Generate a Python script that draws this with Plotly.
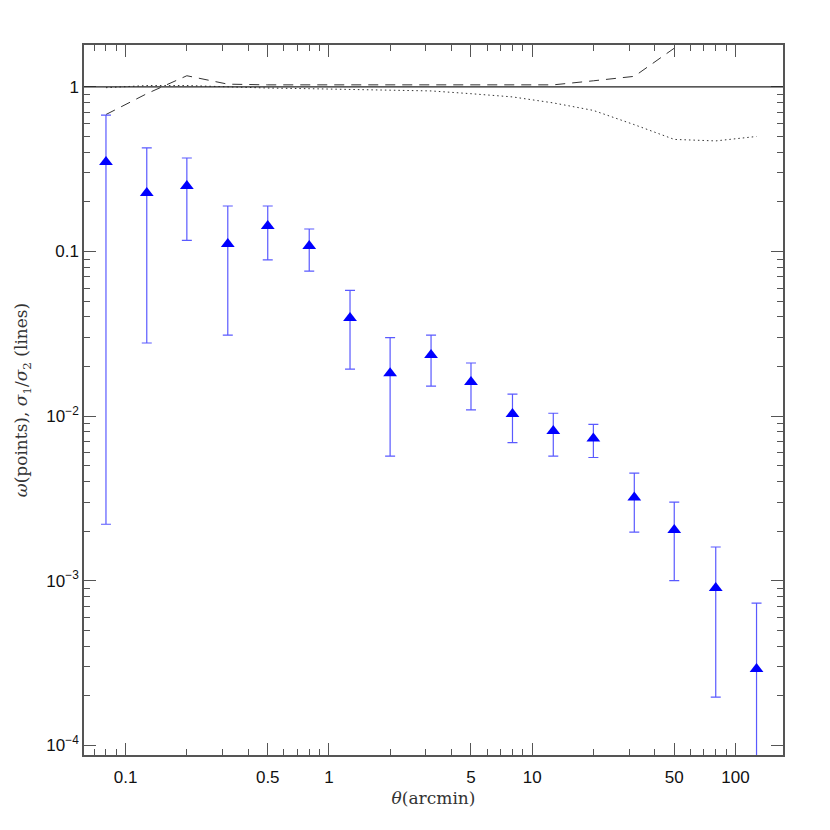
import plotly.graph_objects as go

# angular bins (arcmin)
theta = [0.08, 0.127, 0.2, 0.318, 0.5, 0.8, 1.27, 2.0, 3.18, 5.0,
         8.0, 12.7, 20.0, 31.8, 50.0, 80.0, 127.0]

# correlation function with upper / lower error bounds
omega = [0.35, 0.227, 0.25, 0.111, 0.143, 0.108, 0.0394, 0.0182, 0.0235,
         0.0161, 0.0103, 0.0081, 0.0073, 0.0032, 0.00203, 0.0009, 0.00029]
omega_hi = [0.675, 0.426, 0.37, 0.189, 0.189, 0.137, 0.058, 0.030, 0.031,
            0.021, 0.0136, 0.0104, 0.0089, 0.0045, 0.0030, 0.0016, 0.00073]
omega_lo = [0.0022, 0.0278, 0.117, 0.031, 0.089, 0.076, 0.0193, 0.0057,
            0.0152, 0.0109, 0.0069, 0.0057, 0.0056, 0.00197, 0.0010,
            0.000196, 0.00002]

# sigma ratio curves
theta_dash = [0.08, 0.127, 0.2, 0.318, 0.5, 0.8, 1.27, 2.0, 3.18, 5.0,
              8.0, 12.7, 20.0, 31.8, 50.0]
ratio_dash = [0.68, 0.91, 1.17, 1.04, 1.03, 1.03, 1.02, 1.02, 1.02, 1.02,
              1.02, 1.03, 1.09, 1.16, 1.72]
ratio_dot = [0.99, 1.02, 1.02, 1.0, 0.985, 0.976, 0.963, 0.955, 0.946, 0.91,
             0.87, 0.80, 0.72, 0.59, 0.48, 0.47, 0.50]

x_major = [0.1, 0.5, 1, 5, 10, 50, 100]
x_major_text = ["0.1", "0.5", "1", "5", "10", "50", "100"]
x_minor = [0.07, 0.08, 0.09, 0.2, 0.3, 0.4, 0.6, 0.7, 0.8, 0.9,
           2, 3, 4, 6, 7, 8, 9, 20, 30, 40, 60, 70, 80, 90]
y_major = [1e-4, 1e-3, 1e-2, 0.1, 1]
y_major_text = ["10<sup>\u22124</sup>", "10<sup>\u22123</sup>",
                "10<sup>\u22122</sup>", "0.1", "1"]
y_minor = [m * 10.0 ** e for e in (-4, -3, -2, -1, 0) for m in range(2, 10)]

AXIS_COLOR = "#555555"
TICK_FONT = dict(family="Liberation Sans, Arial, sans-serif", size=17, color="#111")
TITLE_FONT = dict(family="DejaVu Serif, serif", size=17, color="#333")

fig = go.Figure()

fig.add_trace(go.Scatter(
    x=theta_dash, y=ratio_dash, mode="lines",
    line=dict(color="#333333", width=1, dash="10px,7px"),
    showlegend=False,
))
fig.add_trace(go.Scatter(
    x=theta, y=ratio_dot, mode="lines",
    line=dict(color="#333333", width=1, dash="1.5px,3px"),
    showlegend=False,
))
fig.add_hline(y=1, line=dict(color="#222222", width=1.2))

fig.add_trace(go.Scatter(
    x=theta, y=omega, mode="markers",
    marker=dict(symbol="triangle-up", size=12, color="#0000ff"),
    error_y=dict(
        type="data", symmetric=False,
        array=[h - v for h, v in zip(omega_hi, omega)],
        arrayminus=[v - l for v, l in zip(omega, omega_lo)],
        color="#5a5aff", thickness=1.2, width=5,
    ),
    showlegend=False,
))

fig.update_xaxes(
    type="log", range=[-1.205, 2.234],
    tickmode="array", tickvals=x_major, ticktext=x_major_text,
    ticks="inside", ticklen=12, tickcolor=AXIS_COLOR, ticklabelstandoff=6,
    minor=dict(tickmode="array", tickvals=x_minor, ticks="inside",
               ticklen=6, tickcolor=AXIS_COLOR, showgrid=False),
    showgrid=False, zeroline=False,
    showline=True, linecolor=AXIS_COLOR, linewidth=1.5, mirror="allticks",
    tickfont=TICK_FONT,
    title=dict(text="<i>\u03b8</i>(arcmin)", standoff=6, font=TITLE_FONT),
)
fig.update_yaxes(
    type="log", range=[-4.06, 0.255],
    tickmode="array", tickvals=y_major, ticktext=y_major_text,
    ticks="inside", ticklen=12, tickcolor=AXIS_COLOR,
    minor=dict(tickmode="array", tickvals=y_minor, ticks="inside",
               ticklen=6, tickcolor=AXIS_COLOR, showgrid=False),
    showgrid=False, zeroline=False,
    showline=True, linecolor=AXIS_COLOR, linewidth=1.5, mirror="allticks",
    tickfont=TICK_FONT,
    title=dict(text="<i>\u03c9</i>(points), <i>\u03c3</i><sub>1</sub>/<i>\u03c3</i><sub>2</sub> (lines)",
               standoff=14, font=TITLE_FONT),
)

fig.update_layout(
    width=830, height=830,
    paper_bgcolor="white", plot_bgcolor="white",
    margin=dict(l=70, r=55, t=37, b=83),
)

fig.write_html("out.html")
